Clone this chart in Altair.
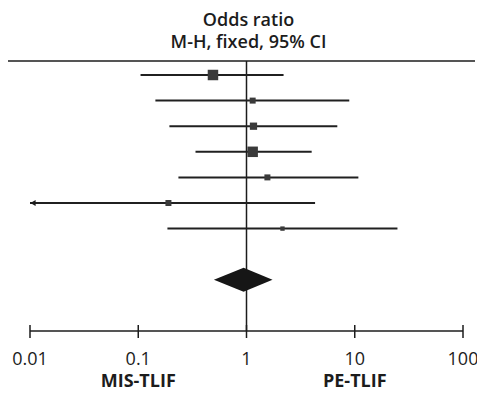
import altair as alt
import pandas as pd

# ---- data ----
studies = ["Study 1", "Study 2", "Study 3", "Study 4", "Study 5", "Study 6", "Study 7"]
odds_ratio = [0.49, 1.14, 1.16, 1.14, 1.56, 0.19, 2.15]
ci_lower = [0.105, 0.144, 0.194, 0.338, 0.235, 0.01, 0.186]
ci_upper = [2.2, 8.9, 6.9, 4.0, 10.8, 4.3, 24.8]
weights = [26, 8.5, 12.5, 26, 8.5, 8.5, 4.5]

pooled_or = 0.94
pooled_lower = 0.50
pooled_upper = 1.74

title_lines = ["Odds ratio", "M-H, fixed, 95% CI"]
tick_values = [0.01, 0.1, 1, 10, 100]
tick_labels = ["0.01", "0.1", "1", "10", "100"]
favour_labels = ["MIS-TLIF", "PE-TLIF"]
favour_x = [0.1, 10]

# ---- tables ----
rows = pd.DataFrame({
    "study": studies,
    "row": list(range(1, len(studies) + 1)),
    "or": odds_ratio,
    "lo": ci_lower,
    "hi": ci_upper,
    "w": weights,
})
rows["clipped"] = rows["lo"] <= 0.01

diamond_row = 9
half = 0.47
diamond = pd.DataFrame({
    "x": [pooled_lower, pooled_or, pooled_upper],
    "y": [diamond_row, diamond_row - half, diamond_row],
    "y2": [diamond_row, diamond_row + half, diamond_row],
})
axis_row = 11
ticks = pd.DataFrame({"x": tick_values, "label": tick_labels})
favours = pd.DataFrame({"x": favour_x, "label": favour_labels})
axis_line = pd.DataFrame({"x": [tick_values[0]], "x2": [tick_values[-1]], "y": [axis_row]})
null_line = pd.DataFrame({"x": [1], "y": [axis_row]})
titles = pd.DataFrame({"x": [1, 1], "label": title_lines})

W, H = 467, 270
X = alt.Scale(type="log", domain=[0.01, 100], range=[22, 455])
Y = alt.Scale(domain=[1, 11], range=[14, 270])
FONT = "Open Sans"
INK = "#1c1c1c"
FS = 18

top_line = alt.Chart(null_line).mark_rule(color=INK, strokeWidth=1.5).encode(
    x=alt.value(0), x2=alt.value(W), y=alt.value(0)
)
vline = alt.Chart(null_line).mark_rule(color=INK, strokeWidth=1.5).encode(
    x=alt.X("x:Q", scale=X, axis=None),
    y=alt.Y("y:Q", scale=Y, axis=None),
    y2=alt.value(0),
)
ci = alt.Chart(rows).mark_rule(color="#202020", strokeWidth=2).encode(
    x=alt.X("lo:Q", scale=X, axis=None),
    x2="hi:Q",
    y=alt.Y("row:Q", scale=Y, axis=None),
)
squares = alt.Chart(rows).mark_square(color="#3a3a3a", opacity=1).encode(
    x=alt.X("or:Q", scale=X, axis=None),
    y=alt.Y("row:Q", scale=Y, axis=None),
    size=alt.Size("w:Q", scale=alt.Scale(domain=[0, 26], range=[0, 110]), legend=None),
)
arrows = alt.Chart(rows).transform_filter("datum.clipped").mark_point(
    shape="triangle-left", filled=True, color=INK, size=36, opacity=1, xOffset=3
).encode(
    x=alt.X("lo:Q", scale=X, axis=None),
    y=alt.Y("row:Q", scale=Y, axis=None),
)
dia = alt.Chart(diamond).mark_area(color="#161616", orient="vertical", opacity=1).encode(
    x=alt.X("x:Q", scale=X, axis=None),
    y=alt.Y("y:Q", scale=Y, axis=None),
    y2="y2:Q",
)
axis_rule = alt.Chart(axis_line).mark_rule(color=INK, strokeWidth=1.5).encode(
    x=alt.X("x:Q", scale=X, axis=None), x2="x2:Q",
    y=alt.Y("y:Q", scale=Y, axis=None),
)
tick_marks = alt.Chart(ticks).mark_rule(color=INK, strokeWidth=1.5).encode(
    x=alt.X("x:Q", scale=X, axis=None), y=alt.value(264), y2=alt.value(277)
)
tick_text = alt.Chart(ticks).mark_text(
    font=FONT, fontSize=FS, color=INK, baseline="alphabetic"
).encode(
    x=alt.X("x:Q", scale=X, axis=None), y=alt.value(304), text="label:N"
)
favour_text = alt.Chart(favours).mark_text(
    font=FONT, fontSize=FS, fontWeight="bold", color=INK, baseline="alphabetic"
).encode(
    x=alt.X("x:Q", scale=X, axis=None), y=alt.value(326), text="label:N"
)
title_text = alt.Chart(titles).transform_window(
    idx="row_number()"
).transform_calculate(
    ty="datum.idx == 1 ? -35 : -13"
).mark_text(
    font=FONT, fontSize=FS, fontWeight=600, color=INK, baseline="alphabetic", dx=2
).encode(
    x=alt.X("x:Q", scale=X, axis=None),
    y=alt.Y("ty:Q", scale=None, axis=None),
    text="label:N",
)

chart = alt.layer(
    top_line, vline, ci, squares, arrows, dia, axis_rule, tick_marks,
    tick_text, favour_text, title_text
).properties(
    width=W,
    height=H,
    autosize=alt.AutoSizeParams(type="none"),
    padding={"left": 0, "right": 2, "top": 53, "bottom": 61},
).configure_view(stroke=None)

chart.save("out.html", embed_options={"renderer": "svg", "actions": False})
